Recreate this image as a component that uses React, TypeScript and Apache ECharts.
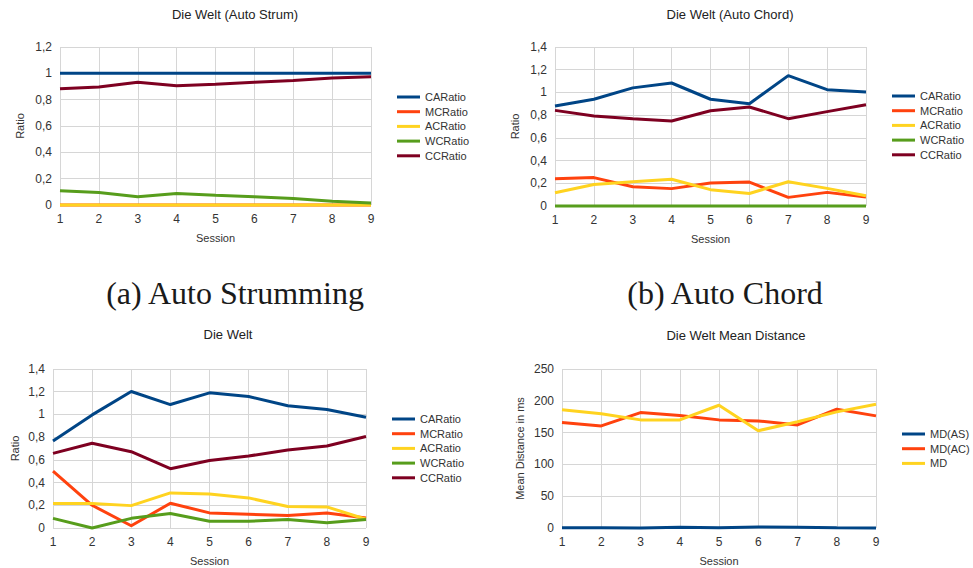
import React, { useEffect, useRef } from "react";
import * as echarts from "echarts";

const sessions = [1, 2, 3, 4, 5, 6, 7, 8, 9];

// (a) Auto Strum
const strumCA = [1, 1, 1, 1, 1, 1, 1, 1, 1];
const strumMC = [0, 0, 0, 0, 0, 0, 0, 0, 0];
const strumAC = [0, 0, 0, 0, 0, 0, 0, 0, 0];
const strumWC = [0.108, 0.095, 0.062, 0.087, 0.074, 0.062, 0.049, 0.028, 0.015];
const strumCC = [0.882, 0.897, 0.933, 0.905, 0.918, 0.933, 0.946, 0.964, 0.974];

// (b) Auto Chord
const chordCA = [0.88, 0.94, 1.04, 1.083, 0.94, 0.9, 1.148, 1.024, 1.004];
const chordMC = [0.24, 0.25, 0.17, 0.153, 0.203, 0.211, 0.076, 0.12, 0.079];
const chordAC = [0.117, 0.19, 0.214, 0.235, 0.144, 0.11, 0.214, 0.155, 0.09];
const chordWC = [0, 0, 0, 0, 0, 0, 0, 0, 0];
const chordCC = [0.842, 0.792, 0.769, 0.748, 0.839, 0.872, 0.769, 0.831, 0.892];

// Die Welt
const weltCA = [0.766, 0.996, 1.202, 1.087, 1.19, 1.158, 1.076, 1.043, 0.976];
const weltMC = [0.5, 0.2, 0.02, 0.218, 0.133, 0.121, 0.109, 0.133, 0.088];
const weltAC = [0.215, 0.215, 0.197, 0.309, 0.3, 0.265, 0.189, 0.186, 0.077];
const weltWC = [0.085, 0, 0.085, 0.127, 0.059, 0.059, 0.074, 0.047, 0.074];
const weltCC = [0.657, 0.746, 0.672, 0.522, 0.595, 0.634, 0.687, 0.722, 0.805];

// Mean distance
const mdAS = [0.3, 0.3, 0, 1, 0.5, 1.5, 1, 0.3, 0];
const mdAC = [165.8, 160.5, 181.5, 177, 170, 168.4, 162, 186.8, 176.3];
const mdAll = [185.8, 179.5, 170, 170, 193, 153, 167, 182.6, 194.7];

const ratioNames = ["CARatio", "MCRatio", "ACRatio", "WCRatio", "CCRatio"];
const mdNames = ["MD(AS)", "MD(AC)", "MD"];
const titles = ["Die Welt (Auto Strum)", "Die Welt (Auto Chord)", "Die Welt", "Die Welt Mean Distance"];
const captions = ["(a) Auto Strumming", "(b) Auto Chord"];

const BLUE = "#004586";
const RED = "#ff420e";
const YELLOW = "#ffd320";
const GREEN = "#579d1c";
const MAROON = "#7e0021";
const ratioColors = [BLUE, RED, YELLOW, GREEN, MAROON];
const mdColors = [BLUE, RED, YELLOW];

const FONT = "Liberation Sans, Arial, sans-serif";

export default function App() {
  const ref = useRef<HTMLDivElement>(null);
  useEffect(() => {
    if (!ref.current) return;
    const chart = echarts.init(ref.current, undefined, { renderer: "svg" });

    const grids = [
      { left: 60, top: 47, width: 311, height: 158 },
      { left: 555, top: 47, width: 311, height: 159 },
      { left: 53, top: 369, width: 313, height: 159 },
      { left: 562, top: 369, width: 314, height: 159 },
    ];
    const yMax = [1.2, 1.4, 1.4, 250];
    const yInt = [0.2, 0.2, 0.2, 50];
    const yNames = ["Ratio", "Ratio", "Ratio", "Mean Distance in ms"];
    const yGaps = [35, 35, 33, 37];
    const titlePos = [
      [235, 8],
      [730, 8],
      [228, 328],
      [736, 329],
    ];
    const legendPos = [
      [397, 91],
      [892, 90],
      [392, 413],
      [902, 428],
    ];

    const gray = "#d6d6d6";
    const ratioFmt = (v: number) => String(Math.round(v * 10) / 10).replace(".", ",");

    const xAxes = grids.map((_, i) => ({
      type: "value",
      gridIndex: i,
      min: 1,
      max: 9,
      interval: 1,
      name: "Session",
      nameLocation: "middle",
      nameGap: 27,
      nameTextStyle: { fontFamily: FONT, fontSize: 11, color: "#333" },
      axisLine: { show: false },
      axisTick: { show: false },
      axisLabel: { margin: 8, fontFamily: FONT, fontSize: 12, color: "#333" },
      splitLine: { show: true, lineStyle: { color: gray, width: 1 } },
    }));
    const yAxes = grids.map((_, i) => ({
      type: "value",
      gridIndex: i,
      min: 0,
      max: yMax[i],
      interval: yInt[i],
      name: yNames[i],
      nameLocation: "middle",
      nameGap: yGaps[i],
      nameTextStyle: { fontFamily: FONT, fontSize: 11, color: "#333" },
      axisLine: { show: false },
      axisTick: { show: false },
      axisLabel: {
        margin: 8,
        fontFamily: FONT,
        fontSize: 12,
        color: "#333",
        formatter: i === 3 ? (v: number) => String(v) : ratioFmt,
      },
      splitLine: { show: true, lineStyle: { color: gray, width: 1 } },
    }));

    const mk = (name: string, color: string, vals: number[], idx: number) => ({
      type: "line",
      name,
      xAxisIndex: idx,
      yAxisIndex: idx,
      data: sessions.map((s, k) => [s, vals[k]]),
      showSymbol: false,
      symbol: "none",
      lineStyle: { color, width: 3 },
      itemStyle: { color },
      clip: false,
    });

    const ratioSets = [
      [strumCA, strumMC, strumAC, strumWC, strumCC],
      [chordCA, chordMC, chordAC, chordWC, chordCC],
      [weltCA, weltMC, weltAC, weltWC, weltCC],
    ];
    const series: any[] = [];
    ratioSets.forEach((set, gi) => {
      set.forEach((vals, k) => series.push(mk(ratioNames[k], ratioColors[k], vals, gi)));
    });
    [mdAS, mdAC, mdAll].forEach((vals, k) => series.push(mk(mdNames[k], mdColors[k], vals, 3)));

    const legends = legendPos.map((p, i) => ({
      left: p[0],
      top: p[1],
      orient: "vertical",
      icon: "rect",
      itemWidth: 23,
      itemHeight: 3,
      itemGap: 2.7,
      padding: 0,
      data: i === 3 ? mdNames : ratioNames,
      textStyle: { fontFamily: FONT, fontSize: 11, color: "#333", lineHeight: 12 },
      selectedMode: false,
    }));

    const titleObjs = titles.map((t, i) => ({
      text: t,
      left: titlePos[i][0],
      top: titlePos[i][1],
      textAlign: "center",
      padding: 0,
      textStyle: { fontFamily: FONT, fontSize: 13, fontWeight: "normal", color: "#222" },
    }));

    const capStyle = {
      fontFamily: "Liberation Serif, Times New Roman, serif",
      fontSize: 32,
      fill: "#1a1a1a",
      align: "center",
      verticalAlign: "middle",
    };

    chart.setOption({
      animation: false,
      backgroundColor: "#ffffff",
      title: titleObjs,
      grid: grids,
      xAxis: xAxes,
      yAxis: yAxes,
      legend: legends,
      series,
      graphic: [
        { type: "text", x: 235, y: 293, style: { ...capStyle, text: captions[0] } },
        { type: "text", x: 725, y: 293, style: { ...capStyle, text: captions[1] } },
      ],
    });
    return () => chart.dispose();
  }, []);
  return (
    <div
      ref={ref}
      style={{ position: "fixed", left: 0, top: 0, width: 973, height: 568, background: "#fff" }}
    />
  );
}
